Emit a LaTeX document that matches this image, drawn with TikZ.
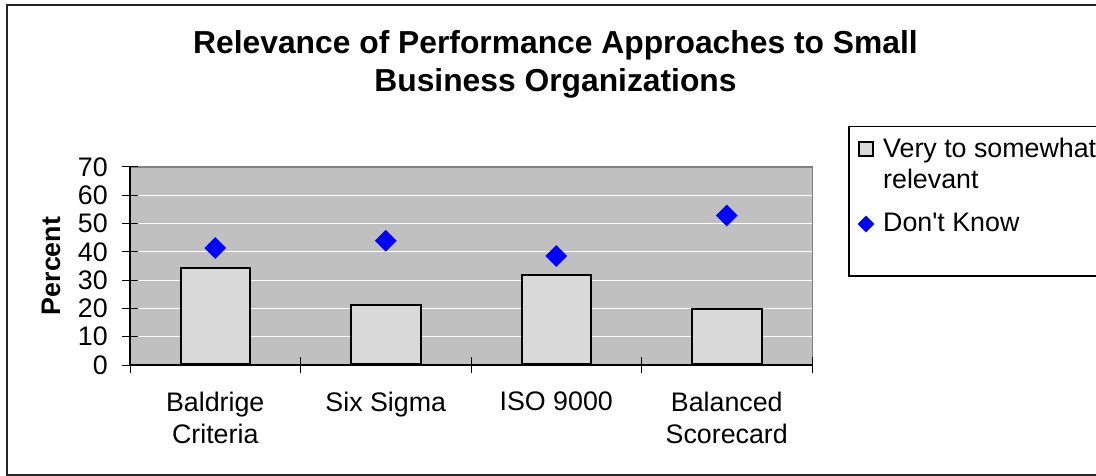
\documentclass[tikz,border=0pt]{standalone}
\usepackage{fontspec}
\setmainfont{Liberation Sans}[Ligatures=TeXOff]
\usetikzlibrary{shapes.geometric}
\definecolor{plotbg}{HTML}{C0C0C0}
\definecolor{barfill}{HTML}{D9D9D9}
\definecolor{dkblue}{HTML}{0000FF}
\definecolor{plotedge}{HTML}{808080}
\begin{document}
\begin{tikzpicture}[x=1pt,y=-1pt,
  lbl/.style={font=\fontsize{26.8}{31.5}\selectfont, inner sep=0pt},
  ttl/.style={font=\fontsize{31.8}{38.5}\selectfont\bfseries, align=center, inner sep=0pt},
  barbox/.style={draw=black, line width=2pt, fill=barfill, inner sep=0pt, minimum width=69.5pt, anchor=south},
  dk/.style={diamond, aspect=1, fill=dkblue, draw=none, inner sep=0pt, minimum width=22pt, minimum height=22pt},
  gridln/.style={draw=white, line width=1.2pt},
  tickln/.style={draw=black, line width=1pt},
  axisln/.style={draw=black, line width=1.5pt}]
\clip (0,0) rectangle (1096,476);
% outer frame
\draw[black!85, line width=2pt] (7,5) rectangle (1110,475);
% title
\node[ttl, anchor=north] (title) at (555.5,30) {Relevance of Performance Approaches to Small\\Business Organizations};
% plot area
\node[fill=plotbg, draw=none, inner sep=0pt, minimum width=682pt, minimum height=198pt, anchor=north west] (plot) at (130,167) {};
\foreach \k in {1,...,6} {
  \pgfmathsetmacro\yy{365-\k*28.2857}
  \draw[gridln] (138,\yy) -- (812,\yy);
}
\draw[draw=plotedge, line width=1.5pt] (plot.north west) -- (plot.north east) -- (plot.south east);
% y ticks and labels
\foreach \k in {0,...,7} {
  \pgfmathsetmacro\yy{365-\k*28.2857}
  \pgfmathtruncatemacro\vv{\k*10}
  \draw[tickln] (122,\yy) -- (138,\yy);
  \node[lbl, anchor=east] (yl\k) at (108,\yy) {\vv};
}
% x ticks
\foreach \xx in {130,300.5,471,641.5,812} {
  \draw[tickln] (\xx,357) -- (\xx,373);
}
\draw[axisln] (plot.north west) -- (130,365);
\draw[axisln] (130,365) -- (812,365);
% bars
\node[barbox, minimum height=96.2pt] (bar1) at (215.25,365) {};
\node[barbox, minimum height=59.4pt] (bar2) at (385.75,365) {};
\node[barbox, minimum height=89.1pt] (bar3) at (556.25,365) {};
\node[barbox, minimum height=55.2pt] (bar4) at (726.75,365) {};
% diamonds
\node[dk] (dk1) at (215.25,248) {};
\node[dk] (dk2) at (385.75,240.7) {};
\node[dk] (dk3) at (556.25,256) {};
\node[dk] (dk4) at (726.75,215.5) {};
% axis title
\node[lbl, font=\fontsize{26.8}{31.5}\selectfont\bfseries, rotate=90] (ytitle) at (51,266) {Percent};
% category labels
\node[lbl, align=center, anchor=north] (c1) at (215.25,392) {Baldrige\\Criteria};
\node[lbl, align=center, anchor=north] (c2) at (385.75,392) {Six Sigma};
\node[lbl, align=center, anchor=north] (c3) at (556.25,392) {ISO 9000};
\node[lbl, align=center, anchor=north] (c4) at (726.75,392) {Balanced\\Scorecard};
% legend
\node[draw=black, line width=1.5pt, inner sep=0pt, minimum width=262pt, minimum height=149pt, anchor=north west] (legend) at (848,126) {};
\node[draw=black, line width=1.5pt, fill=barfill, inner sep=0pt, minimum width=14pt, minimum height=14pt] (lg1) at (866,149) {};
\node[lbl, align=left, anchor=north west] (lt1) at (883,137.5) {Very to somewhat\\relevant};
\node[dk, minimum width=17pt, minimum height=17pt] (lg2) at (866,224) {};
\node[lbl, anchor=north west] (lt2) at (883,213) {Don't Know};
\end{tikzpicture}
\end{document}
